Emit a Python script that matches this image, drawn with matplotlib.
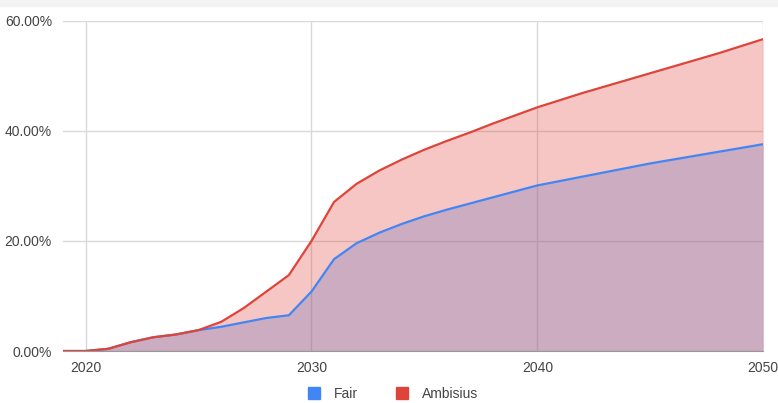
import matplotlib.pyplot as plt
from matplotlib.lines import Line2D
from matplotlib.patches import Rectangle
from matplotlib.ticker import FuncFormatter

plt.rcParams['font.family'] = ['Liberation Sans', 'DejaVu Sans']

years = list(range(2019, 2051))
fair = [0.0, 0.0, 0.4, 1.6, 2.5, 3.0, 3.8, 4.4, 5.2, 6.0, 6.5, 10.8,
        16.7, 19.6, 21.5, 23.1, 24.5, 25.7, 26.8, 27.9, 29.0, 30.1,
        30.9, 31.7, 32.5, 33.3, 34.1, 34.8, 35.5, 36.2, 36.9, 37.6]
ambisius = [0.0, 0.0, 0.4, 1.6, 2.5, 3.0, 3.8, 5.3, 7.8, 10.8, 13.8, 20.0,
            27.1, 30.4, 32.8, 34.8, 36.6, 38.2, 39.7, 41.3, 42.8, 44.3,
            45.6, 46.9, 48.1, 49.3, 50.5, 51.7, 52.9, 54.1, 55.4, 56.7]

blue = '#4285F4'
red = '#DE4439'
grid_c = '#d9d9d9'
text_c = '#444444'

fig = plt.figure(figsize=(7.78, 4.03), dpi=100)
fig.patches.append(Rectangle((0, 0.985), 1, 0.015, transform=fig.transFigure,
                             color='#f3f3f3', zorder=0))
ax = fig.add_axes([0.081, 0.129, 0.9, 0.819])

ax.fill_between(years, 0, fair, color=blue, alpha=0.3, lw=0, zorder=2)
ax.fill_between(years, 0, ambisius, color=red, alpha=0.3, lw=0, zorder=3)
ax.plot(years, fair, color=blue, lw=1.6, zorder=4)
ax.plot(years, ambisius, color=red, lw=1.6, zorder=5)

ax.set_xlim(2019, 2050)
ax.set_ylim(0, 60)
ax.set_xticks([2020, 2030, 2040, 2050])
ax.set_yticks([0, 20, 40, 60])
ax.yaxis.set_major_formatter(FuncFormatter(lambda v, p: f'{v:.2f}%'))
ax.grid(True, color=grid_c, lw=1, zorder=1)
ax.set_axisbelow(True)
for s in ['top', 'right', 'left']:
    ax.spines[s].set_visible(False)
ax.spines['bottom'].set_color('#999999')
ax.spines['bottom'].set_zorder(6)
ax.tick_params(length=0, labelsize=10, colors=text_c)
ax.tick_params(axis='y', pad=8)
ax.tick_params(axis='x', pad=7)

handles = [Line2D([], [], marker='s', ls='', color=blue, markersize=9),
           Line2D([], [], marker='s', ls='', color=red, markersize=9)]
fig.legend(handles, ['Fair', 'Ambisius'], loc='center', ncol=2,
           bbox_to_anchor=(0.5, 0.022), frameon=False, fontsize=10,
           labelcolor=text_c, handletextpad=0.4, columnspacing=2.2)

fig.savefig('out.png', dpi=100)
